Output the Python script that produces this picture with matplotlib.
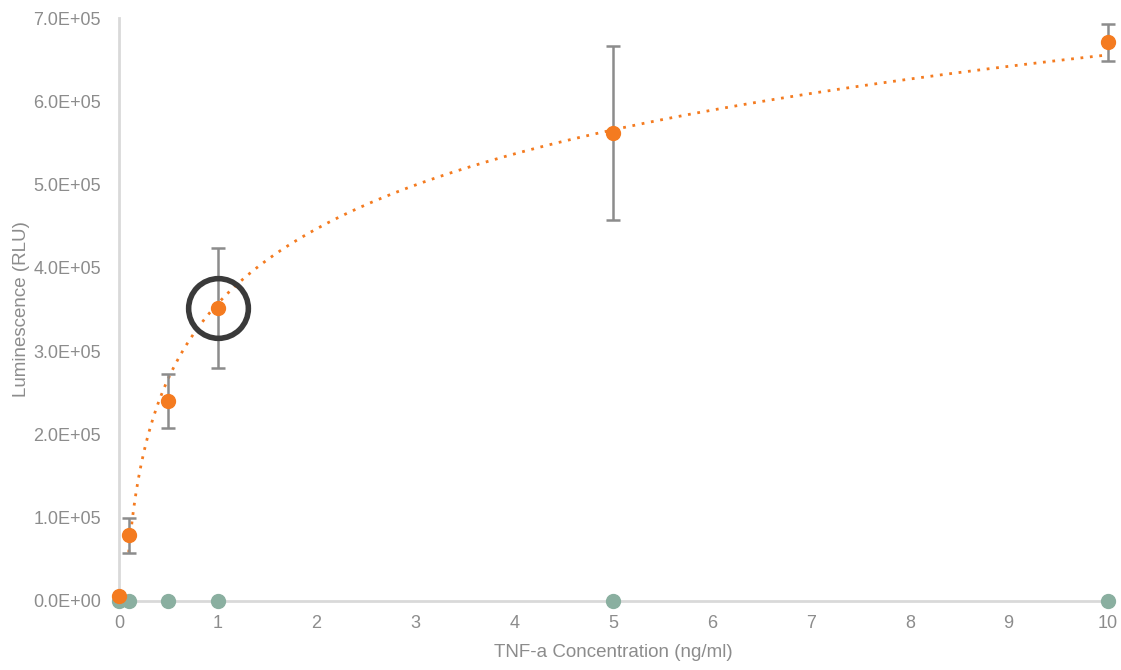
import numpy as np
import matplotlib
matplotlib.use('Agg')
import matplotlib.pyplot as plt
from matplotlib.ticker import FuncFormatter, MultipleLocator

# Data.
conc = [0, 0.1, 0.5, 1, 5, 10]
signal = [6000, 79000, 240000, 352000, 562000, 671000]
signal_err = [0, 21000, 32000, 72000, 105000, 22000]
control = [0, 0, 0, 0, 0, 0]
highlight_x = [1]
highlight_y = [352000]

plt.rcParams['font.family'] = ['Liberation Sans Narrow', 'Liberation Sans', 'DejaVu Sans']

orange = '#f47b20'
green = '#8aafa0'
grey_txt = '#8c8c8c'
axis_col = '#d9d9d9'

fig = plt.figure(figsize=(11.21, 6.70), dpi=100)
ax = fig.add_axes([0.106, 0.103, 0.882, 0.870])

# Logarithmic trendline fitted to the non-zero concentrations.
x_fit = np.array(conc[1:], dtype=float)
y_fit = np.array(signal[1:], dtype=float)
a, b = np.polyfit(np.log(x_fit), y_fit, 1)
xs = np.linspace(min(x_fit), max(x_fit), 400)
ax.plot(xs, a * np.log(xs) + b, linestyle=(0, (1, 2.4)), color=orange, lw=2.0, zorder=2)

# Control series on the baseline.
ax.plot(conc, control, 'o', color=green, ms=10, clip_on=False, zorder=3)

# Main series with error bars.
ax.errorbar(conc, signal, yerr=signal_err, fmt='o', color=orange, ms=10,
            ecolor='#8c8c8c', elinewidth=1.8, capsize=5, capthick=1.8,
            clip_on=False, zorder=4)

# Highlight ring around the 1 ng/ml point.
ax.plot(highlight_x, highlight_y, 'o', ms=43, mfc='none', mec='#3a3a3a', mew=4,
        clip_on=False, zorder=5)

ax.set_xlim(0, 10)
ax.set_ylim(0, 700000)
ax.xaxis.set_major_locator(MultipleLocator(1))
ax.yaxis.set_major_locator(MultipleLocator(100000))
ax.yaxis.set_major_formatter(FuncFormatter(lambda v, p: f"{v / 1e5:.1f}E+05" if v else "0.0E+00"))

for s in ['top', 'right']:
    ax.spines[s].set_visible(False)
for s in ['left', 'bottom']:
    ax.spines[s].set_color(axis_col)
    ax.spines[s].set_linewidth(2)
    ax.spines[s].set_zorder(1)

ax.tick_params(length=0, labelsize=13, colors=grey_txt)
ax.tick_params(axis='y', pad=13)
ax.tick_params(axis='x', pad=10)
ax.set_xlabel('TNF-a Concentration (ng/ml)', fontsize=13.5, color=grey_txt, labelpad=9)
ax.set_ylabel('Luminescence (RLU)', fontsize=13.5, color=grey_txt, labelpad=2)

fig.savefig('out.png', dpi=100)
